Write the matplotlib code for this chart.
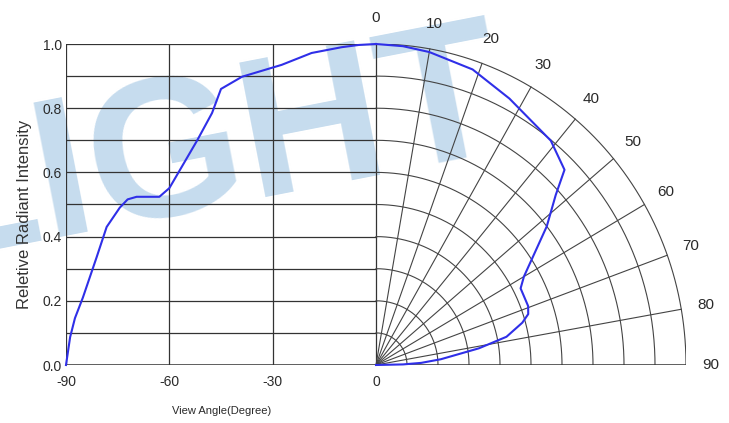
import numpy as np
import matplotlib
matplotlib.use("Agg")
import matplotlib.pyplot as plt

# relative intensity vs view angle (left half, mirrored in the polar half)
angles = [-90, -88.8, -87.4, -85.1, -81.1, -78.2, -74.4, -72.1, -69.5, -62.9,
          -60.0, -51.9, -47.6, -45.0, -38.9, -27.4, -18.7, -10, -5, 0]
intensity = [0.0, 0.087, 0.146, 0.21, 0.336, 0.43, 0.49, 0.516, 0.524, 0.524,
             0.551, 0.70, 0.785, 0.86, 0.898, 0.935, 0.972, 0.99, 0.997, 1.0]

xticks = [-90, -60, -30, 0]
xtick_labels = ["-90", "-60", "-30", "0"]
yticks = [0.0, 0.2, 0.4, 0.6, 0.8, 1.0]
ytick_labels = ["0.0", "0.2", "0.4", "0.6", "0.8", "1.0"]
polar_angles = [0, 10, 20, 30, 40, 50, 60, 70, 80, 90]
polar_radii = [0.1, 0.2, 0.3, 0.4, 0.5, 0.6, 0.7, 0.8, 0.9, 1.0]

FONT = ["Liberation Sans", "DejaVu Sans"]
GRID = "#333333"
TEXT = "#2a2a2a"
CURVE = "#2f2fe8"

fig = plt.figure(figsize=(7.29, 4.23), dpi=100)
ax = fig.add_axes([66 / 729, 58 / 423, 620 / 729, 321 / 423])
ax.set_xlim(-90, 90)
ax.set_ylim(0, 1)
for s in ax.spines.values():
    s.set_visible(False)

# watermark, behind everything
ax.text(-72 / 729, (423 - 260) / 423, "LIGHT", transform=fig.transFigure,
        fontsize=143, fontweight="bold", family=FONT, color="#c6dcee",
        rotation=11, rotation_mode="anchor", ha="left", va="baseline",
        zorder=0, clip_on=False)

# left cartesian grid
for y in np.arange(0.1, 1.01, 0.1):
    ax.plot([-90, 0], [y, y], color=GRID, lw=0.9, zorder=1)
for x in xticks:
    ax.plot([x, x], [0, 1], color=GRID, lw=0.9, zorder=1)
ax.plot([-90, 90], [0, 0], color=GRID, lw=1.1, zorder=2)

# polar grid (x scaled so radius 1 spans 90 units)
t = np.linspace(0, np.pi / 2, 200)
for r in polar_radii:
    ax.plot(90 * r * np.sin(t), r * np.cos(t), color="#444444", lw=0.8, zorder=1)
for a in polar_angles[1:-1]:
    th = np.radians(a)
    ax.plot([0, 90 * np.sin(th)], [0, np.cos(th)], color="#444444", lw=0.8, zorder=1)

for a in polar_angles:
    th = np.radians(a)
    ax.text(90 * 1.08 * np.sin(th), 1.08 * np.cos(th), str(a), fontsize=11,
            color=TEXT, ha="center", va="center", family=FONT, clip_on=False)

# curves
ang = np.array(angles)
val = np.array(intensity)
ax.plot(ang, val, color=CURVE, lw=1.5, zorder=3, clip_on=False)
th = np.radians(-ang)
ax.plot(90 * val * np.sin(th), val * np.cos(th), color=CURVE, lw=1.5, zorder=3,
        clip_on=False)

ax.set_xticks(xticks)
ax.set_xticklabels(xtick_labels, family=FONT, fontsize=10, color=TEXT)
ax.set_yticks(yticks)
ax.set_yticklabels(ytick_labels, family=FONT, fontsize=10, color=TEXT)
ax.tick_params(length=0)
ax.tick_params(axis="x", pad=7)
ax.tick_params(axis="y", pad=3)

fig.text(25 / 729, (423 - 214) / 423, "Reletive Radiant Intensity", rotation=90,
         fontsize=12, color="#333333", family=FONT, ha="center", va="center")
fig.text(222 / 729, (423 - 411) / 423, "View Angle(Degree)", fontsize=8,
         color=TEXT, family=FONT, ha="center", va="center")

fig.savefig("out.png", dpi=100)
